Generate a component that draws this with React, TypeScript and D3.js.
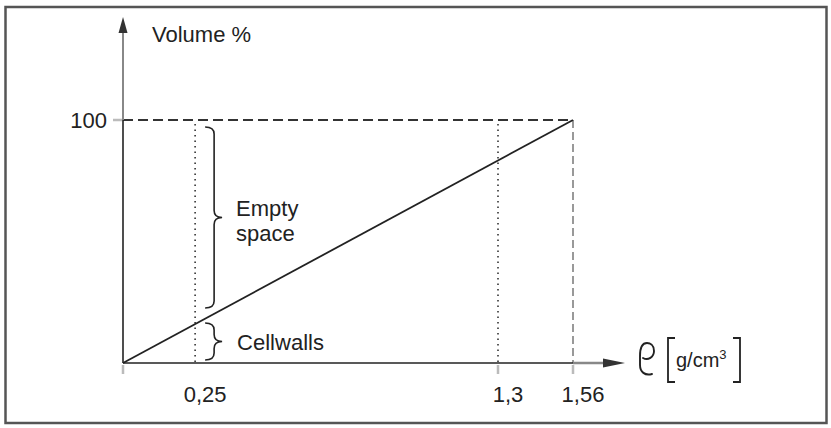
import React from "react";
import * as d3 from "d3";

// ---- data ----
const xDomain = [0, 1.56];
const yDomain = [0, 100];
const xTickValues = [0.25, 1.3, 1.56];
const xTickLabels = ["0,25", "1,3", "1,56"];
const yTickValues = [100];
const yTickLabels = ["100"];
const cellWallDensity = 1.56; // density of pure cell wall substance
const densityLine = [
  { rho: 0, vol: 0 },
  { rho: 1.56, vol: 100 },
];
const dottedDensities = [0.25, 1.3];
const exampleDensity = 0.25;
const braceLabels = [["Empty", "space"], ["Cellwalls"]];
const yAxisTitle = "Volume %";
const xAxisUnit = "g/cm";
const xAxisUnitSup = "3";

const W = 831;
const H = 428;
const FONT = "'Liberation Sans', Arial, Helvetica, sans-serif";
const FS = 22;

export default function App() {
  const x = d3.scaleLinear().domain(xDomain).range([123, 573]);
  const y = d3.scaleLinear().domain(yDomain).range([363, 120]);

  const line = d3
    .line<{ rho: number; vol: number }>()
    .x((d) => x(d.rho))
    .y((d) => y(d.vol));

  const x0 = x(0);
  const y0 = y(0);
  const xMax = x(cellWallDensity);
  const yTop = y(100);

  const cellPct = (exampleDensity / cellWallDensity) * 100;

  // curly brace pointing right
  const brace = (bx: number, y1: number, y2: number) => {
    const xa = bx;
    const xb = bx + 9;
    const xc = bx + 17;
    const ym = (y1 + y2) / 2;
    const r = 7;
    const p = d3.path();
    p.moveTo(xa, y1);
    p.quadraticCurveTo(xb, y1, xb, y1 + r);
    p.lineTo(xb, ym - r);
    p.quadraticCurveTo(xb, ym, xc, ym);
    p.quadraticCurveTo(xb, ym, xb, ym + r);
    p.lineTo(xb, y2 - r);
    p.quadraticCurveTo(xb, y2, xa, y2);
    return { d: p.toString(), tipX: xc, tipY: ym };
  };

  const bx = x(exampleDensity) + 10;
  const b1 = brace(bx, y(100) + 7, y(cellPct) - 16);
  const b2 = brace(bx, y(cellPct) - 1, y(0) - 3);

  const unitX = 668;
  // script rho glyph, drawn as a path relative to (rx, ry) = top-left
  const rx = 640;
  const ry = 343;
  const rho = d3.path();
  rho.moveTo(rx + 3, ry + 15);
  rho.bezierCurveTo(rx + 8, ry + 18, rx + 14, ry + 14, rx + 14, ry + 8);
  rho.bezierCurveTo(rx + 14, ry + 2, rx + 10, ry, rx + 7, ry);
  rho.bezierCurveTo(rx + 2, ry, rx, ry + 5, rx, ry + 13);
  rho.lineTo(rx, ry + 22);
  rho.bezierCurveTo(rx, ry + 29, rx + 5, ry + 33, rx + 12, ry + 31);

  return (
    <svg
      width={W}
      height={H}
      style={{ position: "absolute", left: 0, top: 0, background: "#fff" }}
      fontFamily={FONT}
    >
      {/* frame */}
      <rect x={5.5} y={7} width={821} height={416} fill="none" stroke="#555" strokeWidth={2.5} />

      {/* reference lines */}
      <line x1={x0} x2={xMax} y1={yTop} y2={yTop} stroke="#333" strokeWidth={1.8} strokeDasharray="10 5" />
      <line x1={xMax} x2={xMax} y1={yTop} y2={y0} stroke="#999" strokeWidth={2} strokeDasharray="8 4" />
      {dottedDensities.map((v) => (
        <line key={v} x1={x(v)} x2={x(v)} y1={yTop + 4} y2={y0} stroke="#333" strokeWidth={1.6} strokeDasharray="1.5 4" />
      ))}

      {/* ticks */}
      {[0, 1.3, 1.56].map((v) => (
        <line key={"t" + v} x1={x(v)} x2={x(v)} y1={y0 + 2} y2={y0 + 11} stroke="#bbb" strokeWidth={2.5} />
      ))}
      {yTickValues.map((v) => (
        <line key={"yt" + v} x1={x0 - 10} x2={x0 - 1} y1={y(v)} y2={y(v)} stroke="#bbb" strokeWidth={2.5} />
      ))}

      {/* axes */}
      <line x1={x0} x2={x0} y1={y0} y2={yTop} stroke="#222" strokeWidth={1.6} />
      <line x1={x0} x2={x0} y1={yTop} y2={30} stroke="#888" strokeWidth={2} />
      <path d={`M${x0},17 L${x0 - 4.5},33 L${x0 + 4.5},33 Z`} fill="#333" />
      <line x1={x0} x2={xMax} y1={y0} y2={y0} stroke="#222" strokeWidth={1.6} />
      <line x1={xMax} x2={606} y1={y0} y2={y0} stroke="#888" strokeWidth={2.5} />
      <path d={`M625,${y0} L603,${y0 - 4.5} L603,${y0 + 4.5} Z`} fill="#333" />

      {/* density line */}
      <path d={line(densityLine) || ""} fill="none" stroke="#222" strokeWidth={1.8} />

      {/* braces */}
      <path d={b1.d} fill="none" stroke="#222" strokeWidth={1.6} />
      <path d={b2.d} fill="none" stroke="#222" strokeWidth={1.6} />
      <text x={b1.tipX + 14} y={b1.tipY - 2} fontSize={FS} fill="#222">
        <tspan x={b1.tipX + 14}>{braceLabels[0][0]}</tspan>
        <tspan x={b1.tipX + 14} dy={25}>{braceLabels[0][1]}</tspan>
      </text>
      <text x={b2.tipX + 15} y={b2.tipY + 8} fontSize={FS} fill="#222">
        {braceLabels[1][0]}
      </text>

      {/* tick labels */}
      {xTickValues.map((v, i) => (
        <text key={"xl" + v} x={x(v) + 10} y={402} textAnchor="middle" fontSize={FS} fill="#222">
          {xTickLabels[i]}
        </text>
      ))}
      {yTickValues.map((v, i) => (
        <text key={"yl" + v} x={107} y={y(v) + 8} textAnchor="end" fontSize={FS} fill="#222">
          {yTickLabels[i]}
        </text>
      ))}

      {/* axis titles */}
      <text x={152} y={42} fontSize={FS} fill="#222">
        {yAxisTitle}
      </text>
      <path d={rho.toString()} fill="none" stroke="#222" strokeWidth={1.9} strokeLinecap="round" />
      <path d={`M${unitX + 7},338 L${unitX},338 L${unitX},382 L${unitX + 7},382`} fill="none" stroke="#222" strokeWidth={1.8} />
      <path d={`M${unitX + 65},338 L${unitX + 72},338 L${unitX + 72},382 L${unitX + 65},382`} fill="none" stroke="#222" strokeWidth={1.8} />
      <text x={unitX + 8} y={367} fontSize={20} fill="#222">
        {xAxisUnit}
        <tspan fontSize={13} dy={-8}>{xAxisUnitSup}</tspan>
      </text>
    </svg>
  );
}
